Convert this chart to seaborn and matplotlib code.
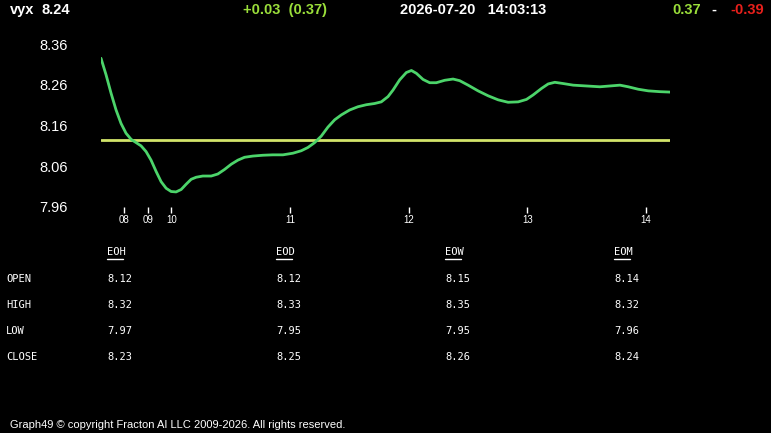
import matplotlib
matplotlib.use("Agg")
import matplotlib.pyplot as plt
import seaborn as sns
import pandas as pd
from matplotlib.lines import Line2D

# session position: 10:00 -> 0, each hour -> 1 (pre-market compressed)
t = [-0.594, -0.551, -0.509, -0.467, -0.425, -0.383, -0.340, -0.298, -0.256, -0.214,
     -0.172, -0.129, -0.087, -0.045, -0.003, 0.039, 0.082, 0.124, 0.166, 0.208,
     0.264, 0.335, 0.391, 0.447, 0.504, 0.560, 0.616, 0.686, 0.771, 0.855,
     0.940, 1.024, 1.094, 1.150, 1.207, 1.263, 1.319, 1.376, 1.432, 1.502,
     1.572, 1.643, 1.713, 1.769, 1.826, 1.868, 1.924, 1.980, 2.023, 2.065,
     2.121, 2.177, 2.233, 2.304, 2.374, 2.430, 2.501, 2.585, 2.669, 2.754,
     2.838, 2.923, 2.993, 3.049, 3.120, 3.176, 3.232, 3.302, 3.387, 3.499,
     3.612, 3.696, 3.781, 3.851, 3.935, 4.020, 4.118, 4.203]
price = [8.325, 8.284, 8.239, 8.198, 8.165, 8.141, 8.126, 8.118, 8.110, 8.096,
         8.075, 8.047, 8.022, 8.006, 7.998, 7.997, 8.003, 8.016, 8.028, 8.033,
         8.036, 8.036, 8.041, 8.052, 8.065, 8.075, 8.082, 8.085, 8.087, 8.088,
         8.088, 8.092, 8.098, 8.106, 8.118, 8.134, 8.156, 8.174, 8.186, 8.198,
         8.206, 8.211, 8.214, 8.218, 8.231, 8.247, 8.272, 8.290, 8.295, 8.288,
         8.273, 8.265, 8.265, 8.271, 8.274, 8.270, 8.259, 8.245, 8.233, 8.223,
         8.217, 8.218, 8.224, 8.235, 8.251, 8.262, 8.266, 8.263, 8.259, 8.257,
         8.255, 8.257, 8.259, 8.255, 8.249, 8.245, 8.243, 8.242]
open_price = 8.124

tick_pos = [-0.4, -0.2, 0, 1, 2, 3, 4]
tick_labels = ["08", "09", "10", "11", "12", "13", "14"]
y_ticks = [7.96, 8.06, 8.16, 8.26, 8.36]

cols = ["EOH", "EOD", "EOW", "EOM"]
rows = ["OPEN", "HIGH", "LOW", "CLOSE"]
eoh = [8.12, 8.32, 7.97, 8.23]
eod = [8.12, 8.33, 7.95, 8.25]
eow = [8.15, 8.35, 7.95, 8.26]
eom = [8.14, 8.32, 7.96, 8.24]

df = pd.DataFrame({"t": t, "price": price})

sns.set_style("dark", {"axes.facecolor": "black", "figure.facecolor": "black"})
plt.rcParams["font.family"] = ["Liberation Sans", "DejaVu Sans"]

W, H = 771, 433
fig = plt.figure(figsize=(W / 100, H / 100), dpi=100, facecolor="black")
ax = fig.add_axes([101 / W, 1 - 207 / H, (670 - 101) / W, (207 - 44) / H])
ax.set_facecolor("black")

ax.plot([t[0], t[-1]], [open_price, open_price], color="#d2e46a", lw=2, zorder=2)
sns.lineplot(data=df, x="t", y="price", ax=ax, color="#4cd46a", lw=2, zorder=3,
             solid_joinstyle="round", solid_capstyle="round")

ax.set_xlim(t[0], t[-1])
ax.set_ylim(7.96, 8.36)
ax.set_xticks(tick_pos)
ax.set_xticklabels(tick_labels)
ax.set_yticks(y_ticks)
ax.set_yticklabels([f"{v:.2f}" for v in y_ticks])
ax.tick_params(axis="x", colors="white", labelsize=7, length=4, width=1,
               direction="out", pad=2, bottom=True)
ax.tick_params(axis="y", colors="white", labelsize=10.5, length=0, pad=24)
ax.set_xlabel("")
ax.set_ylabel("")
for s in ax.spines.values():
    s.set_visible(False)
ax.grid(False)


def ftext(x, y, s, **kw):
    fig.text(x / W, 1 - y / H, s, va="center", **kw)


# header
hdr = dict(fontsize=10.5, fontweight="bold")
ftext(10, 10, "vyx", color="white", **hdr)
ftext(42, 10, "8.24", color="white", **hdr)
ftext(243, 10, "+0.03  (0.37)", color="#9ade3a", **hdr)
ftext(400, 10, "2026-07-20   14:03:13", color="white", **hdr)
ftext(672, 10, "0.37", color="#9ade3a", **hdr)
ftext(711, 10, "-", color="white", **hdr)
ftext(730, 10, "-0.39", color="#e8201c", **hdr)

# table
mono = dict(family="DejaVu Sans Mono", fontsize=7.5, color="white")
col_x = [107, 276, 445, 614]
row_y = [279, 305, 331, 357]
vals = [eoh, eod, eow, eom]
for cx, name, v in zip(col_x, cols, vals):
    ftext(cx, 252, name, **mono)
    fig.add_artist(Line2D([cx / W, (cx + 16) / W], [1 - 259 / H, 1 - 259 / H],
                          color="white", lw=1, transform=fig.transFigure))
    for ry, val in zip(row_y, v):
        ftext(cx, ry, f"{val:.2f}", **mono)
for ry, r in zip(row_y, rows):
    ftext(6, ry, r, **mono)

ftext(10, 425, "Graph49 \u00a9 copyright Fracton AI LLC 2009-2026. All rights reserved.",
      color="white", fontsize=8)

fig.savefig("out.png", dpi=100, facecolor="black")
